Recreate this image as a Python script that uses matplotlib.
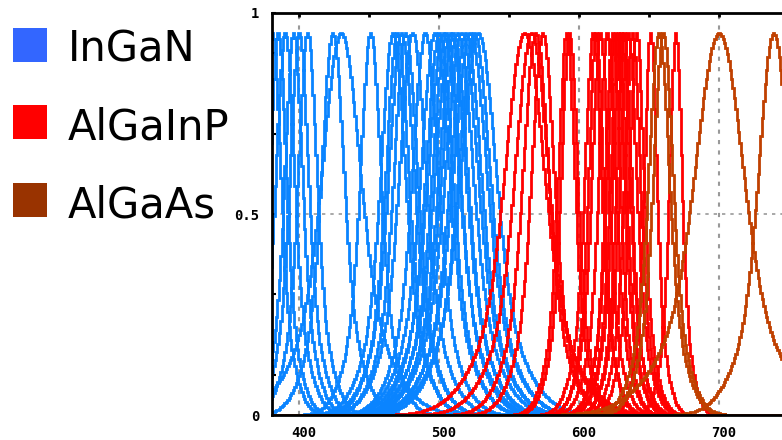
import matplotlib.pyplot as plt
import numpy as np
from matplotlib.patches import Rectangle
import matplotlib.transforms as mtransforms

# peak wavelengths (nm) and spectral width parameters (nm) per emitter family
ingan_peaks = [381, 385, 390, 396, 400, 406, 424, 430, 451,
               467, 470, 473, 476, 481, 490, 497, 500, 503, 505,
               508, 510, 513, 516, 519, 522, 525, 528]
ingan_widths = [16, 16, 18, 17, 18, 18, 22, 38, 20,
                24, 22, 25, 23, 26, 25, 28, 26, 30, 27,
                30, 28, 31, 32, 30, 33, 31, 35]

algainp_peaks = [561, 566, 569, 574, 591, 593, 610, 612, 615, 620, 624,
                 626, 628, 630, 632, 635, 638, 641, 651, 669]
algainp_widths = [39, 33, 25, 22, 16, 16, 16, 14, 16, 16, 14,
                  16, 15, 16, 14, 16, 15, 14, 12, 12]

algaas_peaks = [657, 660, 700, 739]
algaas_widths = [20, 19, 48, 30]

peak_height = 0.95
families = ['InGaN', 'AlGaInP', 'AlGaAs']
line_colors = ['#0a84ff', '#ff0000', '#c04000']
key_colors = ['#3366ff', '#ff0000', '#993300']

wl = np.arange(370, 760, 1.0)

def spectrum(center, width):
    # LED model: narrow core plus a broader base
    g = np.exp(-((wl - center) / width) ** 2)
    return peak_height * (g + 2 * g ** 5) / 3

fig = plt.figure(figsize=(7.82, 4.40), dpi=100)
ax = fig.add_axes([272 / 782, 25 / 440, 510 / 782, 402 / 440])

for peaks, widths, c in [(ingan_peaks, ingan_widths, line_colors[0]),
                         (algainp_peaks, algainp_widths, line_colors[1]),
                         (algaas_peaks, algaas_widths, line_colors[2])]:
    for p, w in zip(peaks, widths):
        ax.plot(wl, spectrum(p, w), color=c, lw=2, drawstyle='steps-mid',
                solid_joinstyle='miter', zorder=3)

ax.set_xlim(380.7, 745)
ax.set_ylim(0, 1)

for x in [400, 500, 600, 700]:
    ax.axvline(x, color='#999999', lw=1.5, ls=(0, (2, 3)), zorder=1)
ax.axhline(0.5, color='#999999', lw=1.2, ls=(0, (2, 3)), zorder=1)

ax.spines['right'].set_visible(False)
for s in ['left', 'top', 'bottom']:
    ax.spines[s].set_linewidth(2)
    ax.spines[s].set_zorder(5)

ax.set_xticks([400, 500, 600, 700])
ax.set_xticks([450, 550, 650], minor=True)
ax.set_yticks([0, 0.5, 1])
ax.set_yticklabels(['0', '0.5', '1'])
ax.set_yticks(np.arange(0.1, 1.0, 0.2), minor=True)
ax.tick_params(axis='x', which='both', direction='in', top=True, bottom=False,
               length=3, width=2, pad=8)
ax.tick_params(axis='y', which='both', direction='in', length=3, width=1.5,
               pad=9)
for lab in ax.get_xticklabels() + ax.get_yticklabels():
    lab.set_fontfamily('DejaVu Sans Mono')
    lab.set_fontweight('bold')
    lab.set_fontsize(10)
shift = mtransforms.ScaledTranslation(5 / 100, 0, fig.dpi_scale_trans)
for lab in ax.get_xticklabels():
    lab.set_transform(lab.get_transform() + shift)

# key on the left
W, H = 782, 440
tops = [28, 105, 183]
for name, col, top in zip(families, key_colors, tops):
    fig.patches.append(Rectangle((13 / W, 1 - (top + 34) / H), 34 / W, 34 / H,
                                 transform=fig.transFigure, facecolor=col,
                                 edgecolor='none'))
    fig.text(68 / W, 1 - (top + 34) / H, name, fontsize=30,
             family='DejaVu Sans', va='baseline', ha='left')

fig.savefig('out.png', dpi=100)
